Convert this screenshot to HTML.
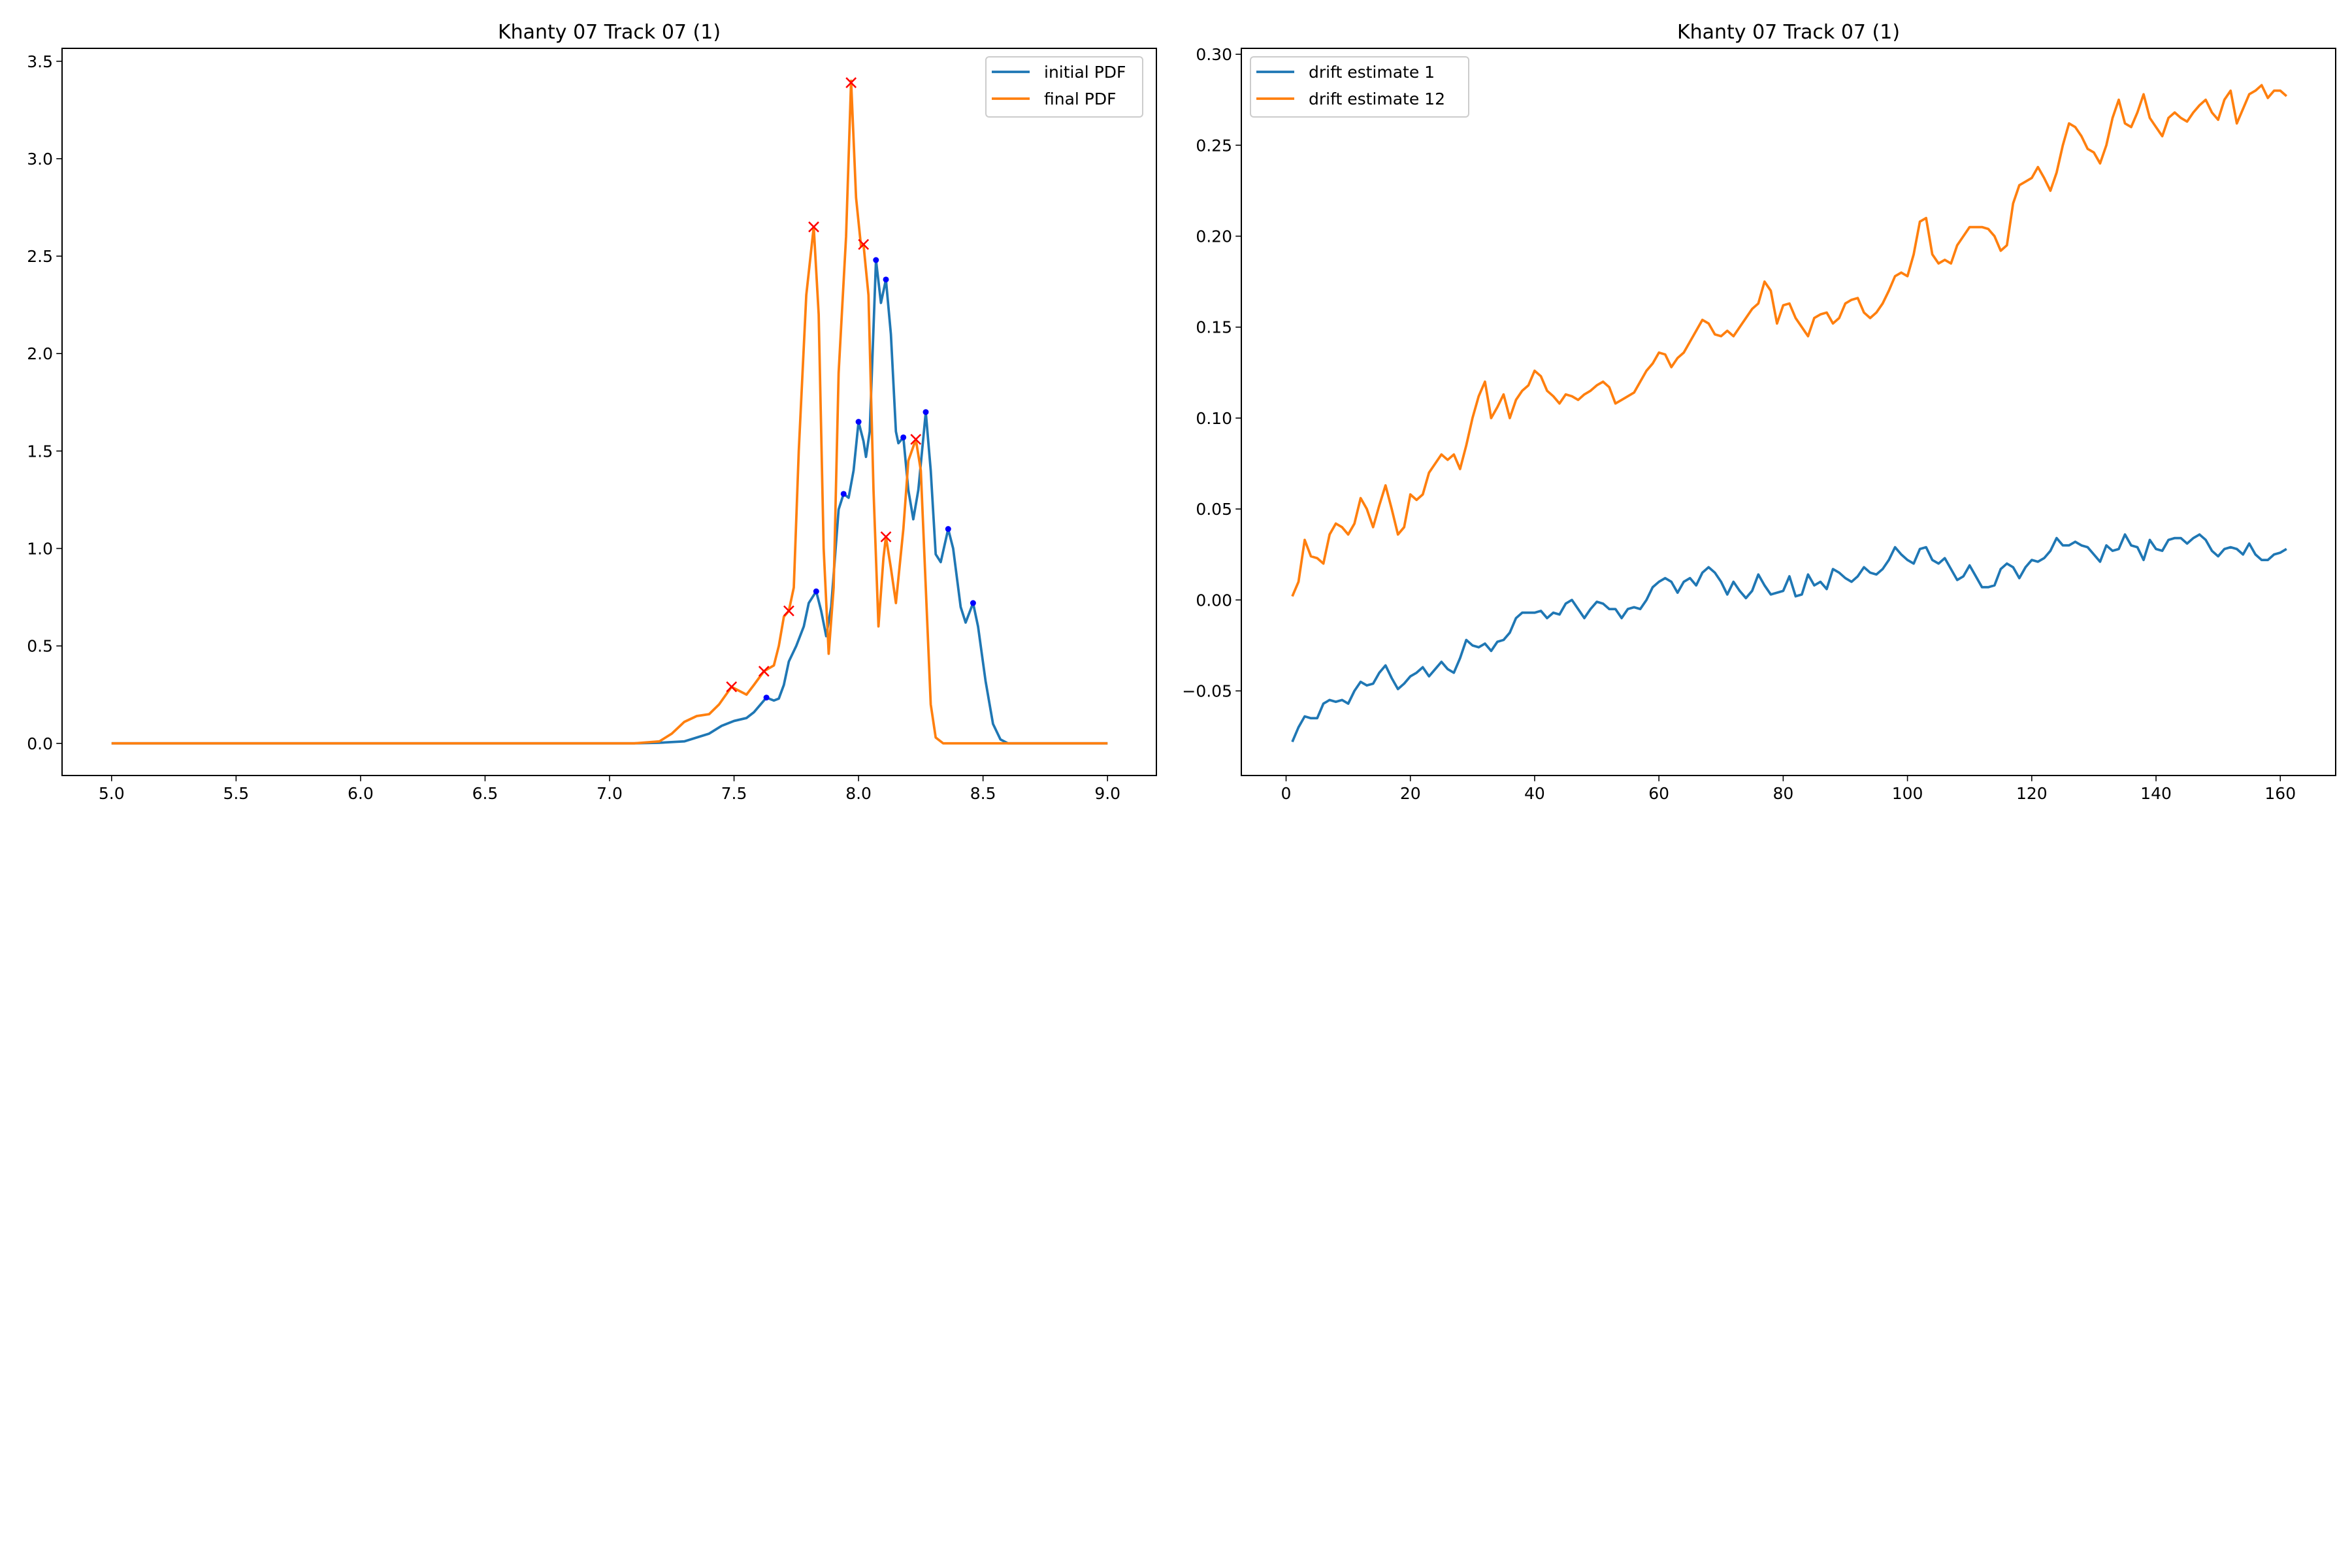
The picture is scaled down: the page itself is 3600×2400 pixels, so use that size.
<!DOCTYPE html>
<html><head><meta charset="utf-8"><style>
html,body{margin:0;padding:0;background:#fff;}
svg{display:block;font-family:"DejaVu Sans","Liberation Sans",sans-serif;}
</style></head><body>
<svg id="fig" width="3600" height="2400" viewBox="0 0 3600 2400" xmlns="http://www.w3.org/2000/svg">
<rect width="3600" height="2400" fill="#fff"/>
</svg>
<script>
// ---- left chart data ----
const pdfInitX = [5.0,7.1,7.2,7.3,7.4,7.45,7.5,7.55,7.58,7.63,7.66,7.68,7.7,7.72,7.75,7.78,7.8,7.83,7.85,7.87,7.89,7.92,7.94,7.96,7.98,8.0,8.02,8.03,8.045,8.07,8.09,8.11,8.13,8.15,8.16,8.18,8.2,8.22,8.24,8.27,8.29,8.31,8.33,8.36,8.38,8.41,8.43,8.46,8.48,8.51,8.54,8.57,8.6,9.0];
const pdfInitY = [0,0,0.003,0.01,0.05,0.09,0.115,0.13,0.16,0.235,0.22,0.23,0.3,0.42,0.5,0.6,0.72,0.78,0.68,0.55,0.7,1.2,1.28,1.26,1.4,1.65,1.55,1.47,1.6,2.48,2.26,2.38,2.1,1.6,1.54,1.57,1.3,1.15,1.3,1.7,1.4,0.97,0.93,1.1,1.0,0.7,0.62,0.72,0.6,0.32,0.1,0.02,0,0];
const pdfFinalX = [5.0,7.1,7.2,7.25,7.3,7.35,7.4,7.44,7.49,7.52,7.55,7.58,7.62,7.66,7.68,7.7,7.72,7.74,7.76,7.79,7.82,7.84,7.86,7.88,7.9,7.92,7.95,7.97,7.99,8.01,8.02,8.04,8.06,8.08,8.1,8.11,8.13,8.15,8.18,8.2,8.23,8.25,8.27,8.29,8.31,8.34,9.0];
const pdfFinalY = [0,0,0.01,0.05,0.11,0.14,0.15,0.2,0.29,0.27,0.25,0.3,0.37,0.4,0.5,0.65,0.68,0.8,1.5,2.3,2.65,2.2,1.0,0.46,0.8,1.9,2.6,3.4,2.8,2.55,2.56,2.3,1.3,0.6,0.95,1.06,0.9,0.72,1.1,1.45,1.56,1.4,0.8,0.2,0.03,0,0];
const peakInitX = [7.63,7.83,7.94,8.0,8.07,8.11,8.18,8.27,8.36,8.46];
const peakInitY = [0.235,0.78,1.28,1.65,2.48,2.38,1.57,1.7,1.1,0.72];
const peakFinalX = [7.49,7.62,7.72,7.82,7.97,8.02,8.11,8.23];
const peakFinalY = [0.29,0.37,0.68,2.65,3.39,2.56,1.06,1.56];
const leftXTicks = [5.0,5.5,6.0,6.5,7.0,7.5,8.0,8.5,9.0];
const leftYTicks = [0.0,0.5,1.0,1.5,2.0,2.5,3.0,3.5];
// ---- right chart data ----
const driftX = [];
for (let i = 1; i <= 161; i++) driftX.push(i);
const drift1 = [-0.078,-0.07,-0.064,-0.065,-0.065,-0.057,-0.055,-0.056,-0.055,-0.057,-0.05,-0.045,-0.047,-0.046,-0.04,-0.036,-0.043,-0.049,-0.046,-0.042,-0.04,-0.037,-0.042,-0.038,-0.034,-0.038,-0.04,-0.032,-0.022,-0.025,-0.026,-0.024,-0.028,-0.023,-0.022,-0.018,-0.01,-0.007,-0.007,-0.007,-0.006,-0.01,-0.007,-0.008,-0.002,0.0,-0.005,-0.01,-0.005,-0.001,-0.002,-0.005,-0.005,-0.01,-0.005,-0.004,-0.005,0.0,0.007,0.01,0.012,0.01,0.004,0.01,0.012,0.008,0.015,0.018,0.015,0.01,0.003,0.01,0.005,0.001,0.005,0.014,0.008,0.003,0.004,0.005,0.013,0.002,0.003,0.014,0.008,0.01,0.006,0.017,0.015,0.012,0.01,0.013,0.018,0.015,0.014,0.017,0.022,0.029,0.025,0.022,0.02,0.028,0.029,0.022,0.02,0.023,0.017,0.011,0.013,0.019,0.013,0.007,0.007,0.008,0.017,0.02,0.018,0.012,0.018,0.022,0.021,0.023,0.027,0.034,0.03,0.03,0.032,0.03,0.029,0.025,0.021,0.03,0.027,0.028,0.036,0.03,0.029,0.022,0.033,0.028,0.027,0.033,0.034,0.034,0.031,0.034,0.036,0.033,0.027,0.024,0.028,0.029,0.028,0.025,0.031,0.025,0.022,0.022,0.025,0.026,0.028];
const drift12 = [0.002,0.01,0.033,0.024,0.023,0.02,0.036,0.042,0.04,0.036,0.042,0.056,0.05,0.04,0.052,0.063,0.05,0.036,0.04,0.058,0.055,0.058,0.07,0.075,0.08,0.077,0.08,0.072,0.085,0.1,0.112,0.12,0.1,0.106,0.113,0.1,0.11,0.115,0.118,0.126,0.123,0.115,0.112,0.108,0.113,0.112,0.11,0.113,0.115,0.118,0.12,0.117,0.108,0.11,0.112,0.114,0.12,0.126,0.13,0.136,0.135,0.128,0.133,0.136,0.142,0.148,0.154,0.152,0.146,0.145,0.148,0.145,0.15,0.155,0.16,0.163,0.175,0.17,0.152,0.162,0.163,0.155,0.15,0.145,0.155,0.157,0.158,0.152,0.155,0.163,0.165,0.166,0.158,0.155,0.158,0.163,0.17,0.178,0.18,0.178,0.19,0.208,0.21,0.19,0.185,0.187,0.185,0.195,0.2,0.205,0.205,0.205,0.204,0.2,0.192,0.195,0.218,0.228,0.23,0.232,0.238,0.232,0.225,0.235,0.25,0.262,0.26,0.255,0.248,0.246,0.24,0.25,0.265,0.275,0.262,0.26,0.268,0.278,0.265,0.26,0.255,0.265,0.268,0.265,0.263,0.268,0.272,0.275,0.268,0.264,0.275,0.28,0.262,0.27,0.278,0.28,0.283,0.276,0.28,0.28,0.277];
const rightXTicks = [0,20,40,60,80,100,120,140,160];
const rightYTicks = [-0.05,0.00,0.05,0.10,0.15,0.20,0.25,0.30];

const NS = 'http://www.w3.org/2000/svg';
const fig = document.getElementById('fig');
function mk(tag, attrs, parent) {
  const e = document.createElementNS(NS, tag);
  for (const k in attrs) e.setAttribute(k, attrs[k]);
  (parent || fig).appendChild(e);
  return e;
}
// axis functions
const L = {x0:95, x1:1770, y0:74, y1:1187};
const lx = v => 170.8 + (v - 5) * 381.1;
const ly = v => 1137.8 - v * 298.3;
const R = {x0:1900, x1:3575, y0:74, y1:1187};
const rx = v => 1968.5 + v * 9.511;
const ry = v => 918.3 - v * 2784;

function path(xs, ys, fx, fy, color, name, parent) {
  let d = '';
  for (let i = 0; i < xs.length; i++) d += (i ? 'L' : 'M') + fx(xs[i]).toFixed(1) + ' ' + fy(ys[i]).toFixed(1);
  const p = mk('path', {d: d, fill: 'none', stroke: color, 'stroke-width': 3.75, 'stroke-linejoin': 'round'}, parent);
  
  
}

function axes(A, fx, fy, xt, yt, xfmt, yfmt, title, name) {
  const g = mk('g', {});
  
  
  const cx = (A.x0 + A.x1) / 2;
  const t = mk('text', {x: cx, y: A.y0 - 15, 'font-size': 30, 'text-anchor': 'middle', fill: '#000'}, g);
  t.textContent = title;
  
  
  xt.forEach(v => {
    const x = fx(v);
    mk('line', {x1: x, x2: x, y1: A.y1, y2: A.y1 + 8.75, stroke: '#000', 'stroke-width': 1.6}, g);
    const tx = mk('text', {x: x, y: A.y1 + 36, 'font-size': 25, 'text-anchor': 'middle', fill: '#000'}, g);
    tx.textContent = xfmt(v);
    
    
  });
  yt.forEach(v => {
    const y = fy(v);
    mk('line', {x1: A.x0 - 8.75, x2: A.x0, y1: y, y2: y, stroke: '#000', 'stroke-width': 1.6}, g);
    const ty = mk('text', {x: A.x0 - 14, y: y + 9, 'font-size': 25, 'text-anchor': 'end', fill: '#000'}, g);
    ty.textContent = yfmt(v);
    
    
  });
  return g;
}
function frame(A, g) {
  const r = mk('rect', {x: A.x0, y: A.y0, width: A.x1 - A.x0, height: A.y1 - A.y0, fill: 'none', stroke: '#000', 'stroke-width': 2}, g);
  
  
}
function legend(x, y, w, labels, g) {
  const lg = mk('g', {}, g);
  
  
  mk('rect', {x: x, y: y, width: w, height: 92, rx: 5, fill: '#fff', 'fill-opacity': 0.8, stroke: '#ccc', 'stroke-width': 2}, lg);
  const cols = ['#1f77b4', '#ff7f0e'];
  labels.forEach((lab, i) => {
    const yy = y + 23 + i * 41;
    mk('line', {x1: x + 9, x2: x + 67, y1: yy, y2: yy, stroke: cols[i], 'stroke-width': 3.75}, lg);
    const t = mk('text', {x: x + 89, y: yy + 9, 'font-size': 25, fill: '#000'}, lg);
    t.textContent = lab;
    
    
  });
}

// left chart
const gl = axes(L, lx, ly, leftXTicks, leftYTicks, v => v.toFixed(1), v => v.toFixed(1), 'Khanty 07 Track 07 (1)', 'pdf-chart');
path(pdfInitX, pdfInitY, lx, ly, '#1f77b4', 'initial-pdf-line', gl);
path(pdfFinalX, pdfFinalY, lx, ly, '#ff7f0e', 'final-pdf-line', gl);
peakInitX.forEach((v, i) => {
  const c = mk('circle', {cx: lx(v), cy: ly(peakInitY[i]), r: 4.5, fill: '#0000ff'}, gl);
  
  
});
peakFinalX.forEach((v, i) => {
  const x = lx(v), y = ly(peakFinalY[i]), s = 7.5;
  const p = mk('path', {d: `M${x-s} ${y-s}L${x+s} ${y+s}M${x-s} ${y+s}L${x+s} ${y-s}`, stroke: '#ff0000', 'stroke-width': 2.5, fill: 'none'}, gl);
  
  
});
frame(L, gl);
legend(1509, 87, 240, ['initial PDF', 'final PDF'], gl);

// right chart
const gr = axes(R, rx, ry, rightXTicks, rightYTicks, v => String(v), v => (v < 0 ? '\u2212' : '') + Math.abs(v).toFixed(2), 'Khanty 07 Track 07 (1)', 'drift-chart');
path(driftX, drift1, rx, ry, '#1f77b4', 'drift-estimate-1-line', gr);
path(driftX, drift12, rx, ry, '#ff7f0e', 'drift-estimate-12-line', gr);
frame(R, gr);
legend(1914, 87, 334, ['drift estimate 1', 'drift estimate 12'], gr);
</script>
</body></html>
